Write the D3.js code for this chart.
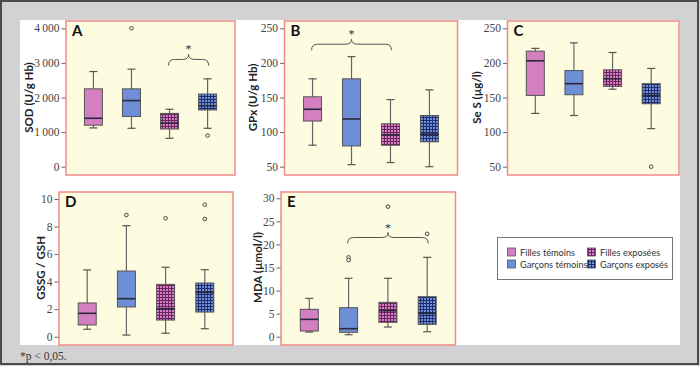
<!DOCTYPE html>
<html><head><meta charset="utf-8">
<script src="https://cdn.jsdelivr.net/npm/d3@7"></script>
<style>body{margin:0;background:#fff}svg{display:block}
.tick text{font-family:"Liberation Serif",serif !important;font-size:11.5px}
</style>
</head><body>
<svg id="c" width="700" height="366"></svg>
<script>
// ---- data ----
const groups = ["Filles témoins", "Garçons témoins", "Filles exposées", "Garçons exposés"];
// [whisker low, Q1, median, Q3, whisker high]
const sodStats = [[1120,1200,1400,2250,2750],[1110,1450,1910,2250,2820],[820,1090,1260,1540,1660],[1110,1640,1760,2100,2540]];
const sodOutliers = [[],[4000],[],[900]];
const gpxStats = [[81,116,133,151,177],[53,80,119,177,209],[56,81,96,112,147],[50,86,97,124,161]];
const gpxOutliers = [[],[],[],[]];
const sesStats = [[127,153,203,217,221],[124,154,170,189,229],[162,166,177,190,215],[105,141,153,170,192]];
const sesOutliers = [[],[],[],[50]];
const gssgStats = [[0.54,0.85,1.70,2.45,4.85],[0.12,2.16,2.76,4.77,8.06],[0.25,1.21,2.03,3.80,5.04],[0.58,1.79,3.22,3.90,4.87]];
const gssgOutliers = [[],[8.84],[8.6],[9.59,8.55]];
const mdaStats = [[1.0,1.23,3.76,5.93,8.3],[0.43,0.95,1.74,6.29,12.66],[2.1,3.12,5.64,7.45,12.66],[1.08,2.68,5.07,8.67,17.2]];
const mdaOutliers = [[],[17.2,16.6],[28.2],[22.3]];
const sodTicks = [0,1000,2000,3000,4000];
const gpxTicks = [50,100,150,200,250];
const sesTicks = [50,100,150,200,250];
const gssgTicks = [0,2,4,6,8,10];
const mdaTicks = [0,5,10,15,20,25,30];
// significance braces: [from group, to group, level value]
const sodBrace = [2,3,3100];
const gpxBrace = [0,2,227];
const mdaBrace = [1,3,21.5];

// ---- drawing ----
const svg = d3.select("#c");
const fr = d3.formatLocale({decimal:",", thousands:"\u2009", grouping:[3], currency:["",""]});
const fmtThousands = fr.format(",");

svg.append("rect").attr("x",0).attr("y",0).attr("width",700).attr("height",366).attr("fill","#d2d2d4");
svg.append("rect").attr("x",1).attr("y",1).attr("width",697).attr("height",363).attr("fill","none").attr("stroke","#4a4a4a").attr("stroke-width",2);
svg.append("rect").attr("x",20).attr("y",20).attr("width",660).attr("height",325).attr("fill","#ffffff");

const defs = svg.append("defs");
function makePattern(id, base, line){
  const p = defs.append("pattern").attr("id",id).attr("patternUnits","userSpaceOnUse").attr("width",3).attr("height",3);
  p.append("rect").attr("width",3).attr("height",3).attr("fill",base);
  p.append("rect").attr("x",0).attr("y",0).attr("width",3).attr("height",1).attr("fill",line);
  p.append("rect").attr("x",0).attr("y",0).attr("width",1).attr("height",3).attr("fill",line);
}
makePattern("pPink","#d47fc1","#6a2460");
makePattern("pBlue","#6e8fd6","#1f2d6e");
const fills = ["#d47fc1","#6e8fd6","url(#pPink)","url(#pBlue)"];

const panels = [
  {letter:"A", title:"SOD (U/g Hb)", stats:sodStats, out:sodOutliers, ticks:sodTicks, dom:[0,4000], fmt:fmtThousands,
   x0:66, x1:235, y0:21, y1:175, r0:166.7, r1:28.3, tx:28, brace:sodBrace},
  {letter:"B", title:"GPx (U/g Hb)", stats:gpxStats, out:gpxOutliers, ticks:gpxTicks, dom:[50,250], fmt:d3.format("d"),
   x0:284.5, x1:457.5, y0:21, y1:175, r0:166.7, r1:28.3, tx:252, brace:gpxBrace},
  {letter:"C", title:"Se S (µg/l)", stats:sesStats, out:sesOutliers, ticks:sesTicks, dom:[50,250], fmt:d3.format("d"),
   x0:507.5, x1:679, y0:21, y1:175, r0:166.7, r1:28.3, tx:476, brace:null},
  {letter:"D", title:"GSSG / GSH", stats:gssgStats, out:gssgOutliers, ticks:gssgTicks, dom:[0,10], fmt:d3.format("d"),
   x0:59, x1:233, y0:192, y1:345, r0:336.7, r1:199, tx:40, brace:null},
  {letter:"E", title:"MDA (µmol/l)", stats:mdaStats, out:mdaOutliers, ticks:mdaTicks, dom:[0,30], fmt:d3.format("d"),
   x0:281, x1:455.5, y0:192, y1:345, r0:336.7, r1:198.3, tx:257, brace:mdaBrace}
];

panels.forEach(P => {
  const g = svg.append("g");
  g.append("rect").attr("x",P.x0).attr("y",P.y0).attr("width",P.x1-P.x0).attr("height",P.y1-P.y0)
    .attr("fill","#fdfbe0").attr("stroke","#f08a8a").attr("stroke-width",1.5);
  const y = d3.scaleLinear().domain(P.dom).range([P.r0,P.r1]);
  const x = d3.scalePoint().domain(groups).range([P.x0,P.x1]).padding(0.72);
  const ax = g.append("g").attr("transform",`translate(${P.x0-0.5},0)`)
    .call(d3.axisLeft(y).tickValues(P.ticks).tickFormat(P.fmt).tickSize(4).tickPadding(2));
  ax.attr("font-family","Liberation Serif").attr("font-size",11.5);
  ax.select(".domain").remove();
  ax.selectAll(".tick line").attr("stroke","#666");
  ax.selectAll(".tick text").attr("fill","#444").attr("font-family","Liberation Serif");
  g.append("text").attr("transform",`translate(${P.tx},${(P.r0+P.r1)/2}) rotate(-90)`)
    .attr("text-anchor","middle").attr("dominant-baseline","central")
    .style("font-family","Lato, sans-serif").style("font-weight","700").style("font-size","11.5px").attr("fill","#222")
    .text(P.title);
  g.append("text").attr("x",P.x0+6).attr("y",P.y0+15).style("font-family","Lato, sans-serif").style("font-weight","700")
    .style("font-size","15px").attr("fill","#111").text(P.letter);
  const bw = 18, cw = 8;
  groups.forEach((grp,i) => {
    const s = P.stats[i], cx = x(grp);
    const bg = g.append("g");
    bg.append("line").attr("x1",cx).attr("x2",cx).attr("y1",y(s[0])).attr("y2",y(s[4])).attr("stroke","#666").attr("stroke-width",1.2);
    [s[0],s[4]].forEach(v => bg.append("line").attr("x1",cx-cw/2).attr("x2",cx+cw/2).attr("y1",y(v)).attr("y2",y(v)).attr("stroke","#555").attr("stroke-width",1.2));
    bg.append("rect").attr("x",cx-bw/2).attr("y",y(s[3])).attr("width",bw).attr("height",y(s[1])-y(s[3]))
      .attr("fill",fills[i]).attr("stroke","#555").attr("stroke-width",1);
    bg.append("line").attr("x1",cx-bw/2).attr("x2",cx+bw/2).attr("y1",y(s[2])).attr("y2",y(s[2])).attr("stroke","#2a2a3a").attr("stroke-width",1.6);
    P.out[i].forEach(v => bg.append("circle").attr("cx",cx).attr("cy",y(v)).attr("r",1.8).attr("fill","#fdfbe0").attr("stroke","#444").attr("stroke-width",1));
  });
  if (P.brace) {
    const xa = x(groups[P.brace[0]]) - 1, xb = x(groups[P.brace[1]]) + 1, yl = y(P.brace[2]);
    const mid = (xa+xb)/2, d = 6, r = 6, pk = 5;
    const path = `M${xa},${yl+d} Q${xa},${yl} ${xa+r},${yl} L${mid-r},${yl} Q${mid},${yl} ${mid},${yl-pk} Q${mid},${yl} ${mid+r},${yl} L${xb-r},${yl} Q${xb},${yl} ${xb},${yl+d}`;
    g.append("path").attr("d",path).attr("fill","none").attr("stroke","#555").attr("stroke-width",1);
    g.append("text").attr("x",mid).attr("y",yl-pk-1).attr("text-anchor","middle")
      .style("font-family","'Liberation Serif', serif").style("font-size","12px").attr("fill","#333").text("*");
  }
});

// legend
const lg = svg.append("g");
lg.append("rect").attr("x",497.5).attr("y",237.5).attr("width",175).attr("height",42).attr("fill","#fff").attr("stroke","#777").attr("stroke-width",1);
const lx = [507, 587], ly = [252, 264];
groups.forEach((grp,i) => {
  const col = i < 2 ? 0 : 1, row = i % 2;
  lg.append("rect").attr("x",lx[col]+0.5).attr("y",ly[row]-4).attr("width",8).attr("height",8).attr("fill",fills[i]).attr("stroke","#555").attr("stroke-width",0.8);
  lg.append("text").attr("x",lx[col]+13).attr("y",ly[row]).attr("dominant-baseline","central")
    .style("font-family","Lato, sans-serif").style("font-size","9.2px").attr("fill","#333").text(grp);
});

svg.append("text").attr("x",20).attr("y",360).style("font-family","'Liberation Serif', serif").style("font-size","11.5px").attr("fill","#333").text("*p < 0,05.");
</script>
</body></html>
